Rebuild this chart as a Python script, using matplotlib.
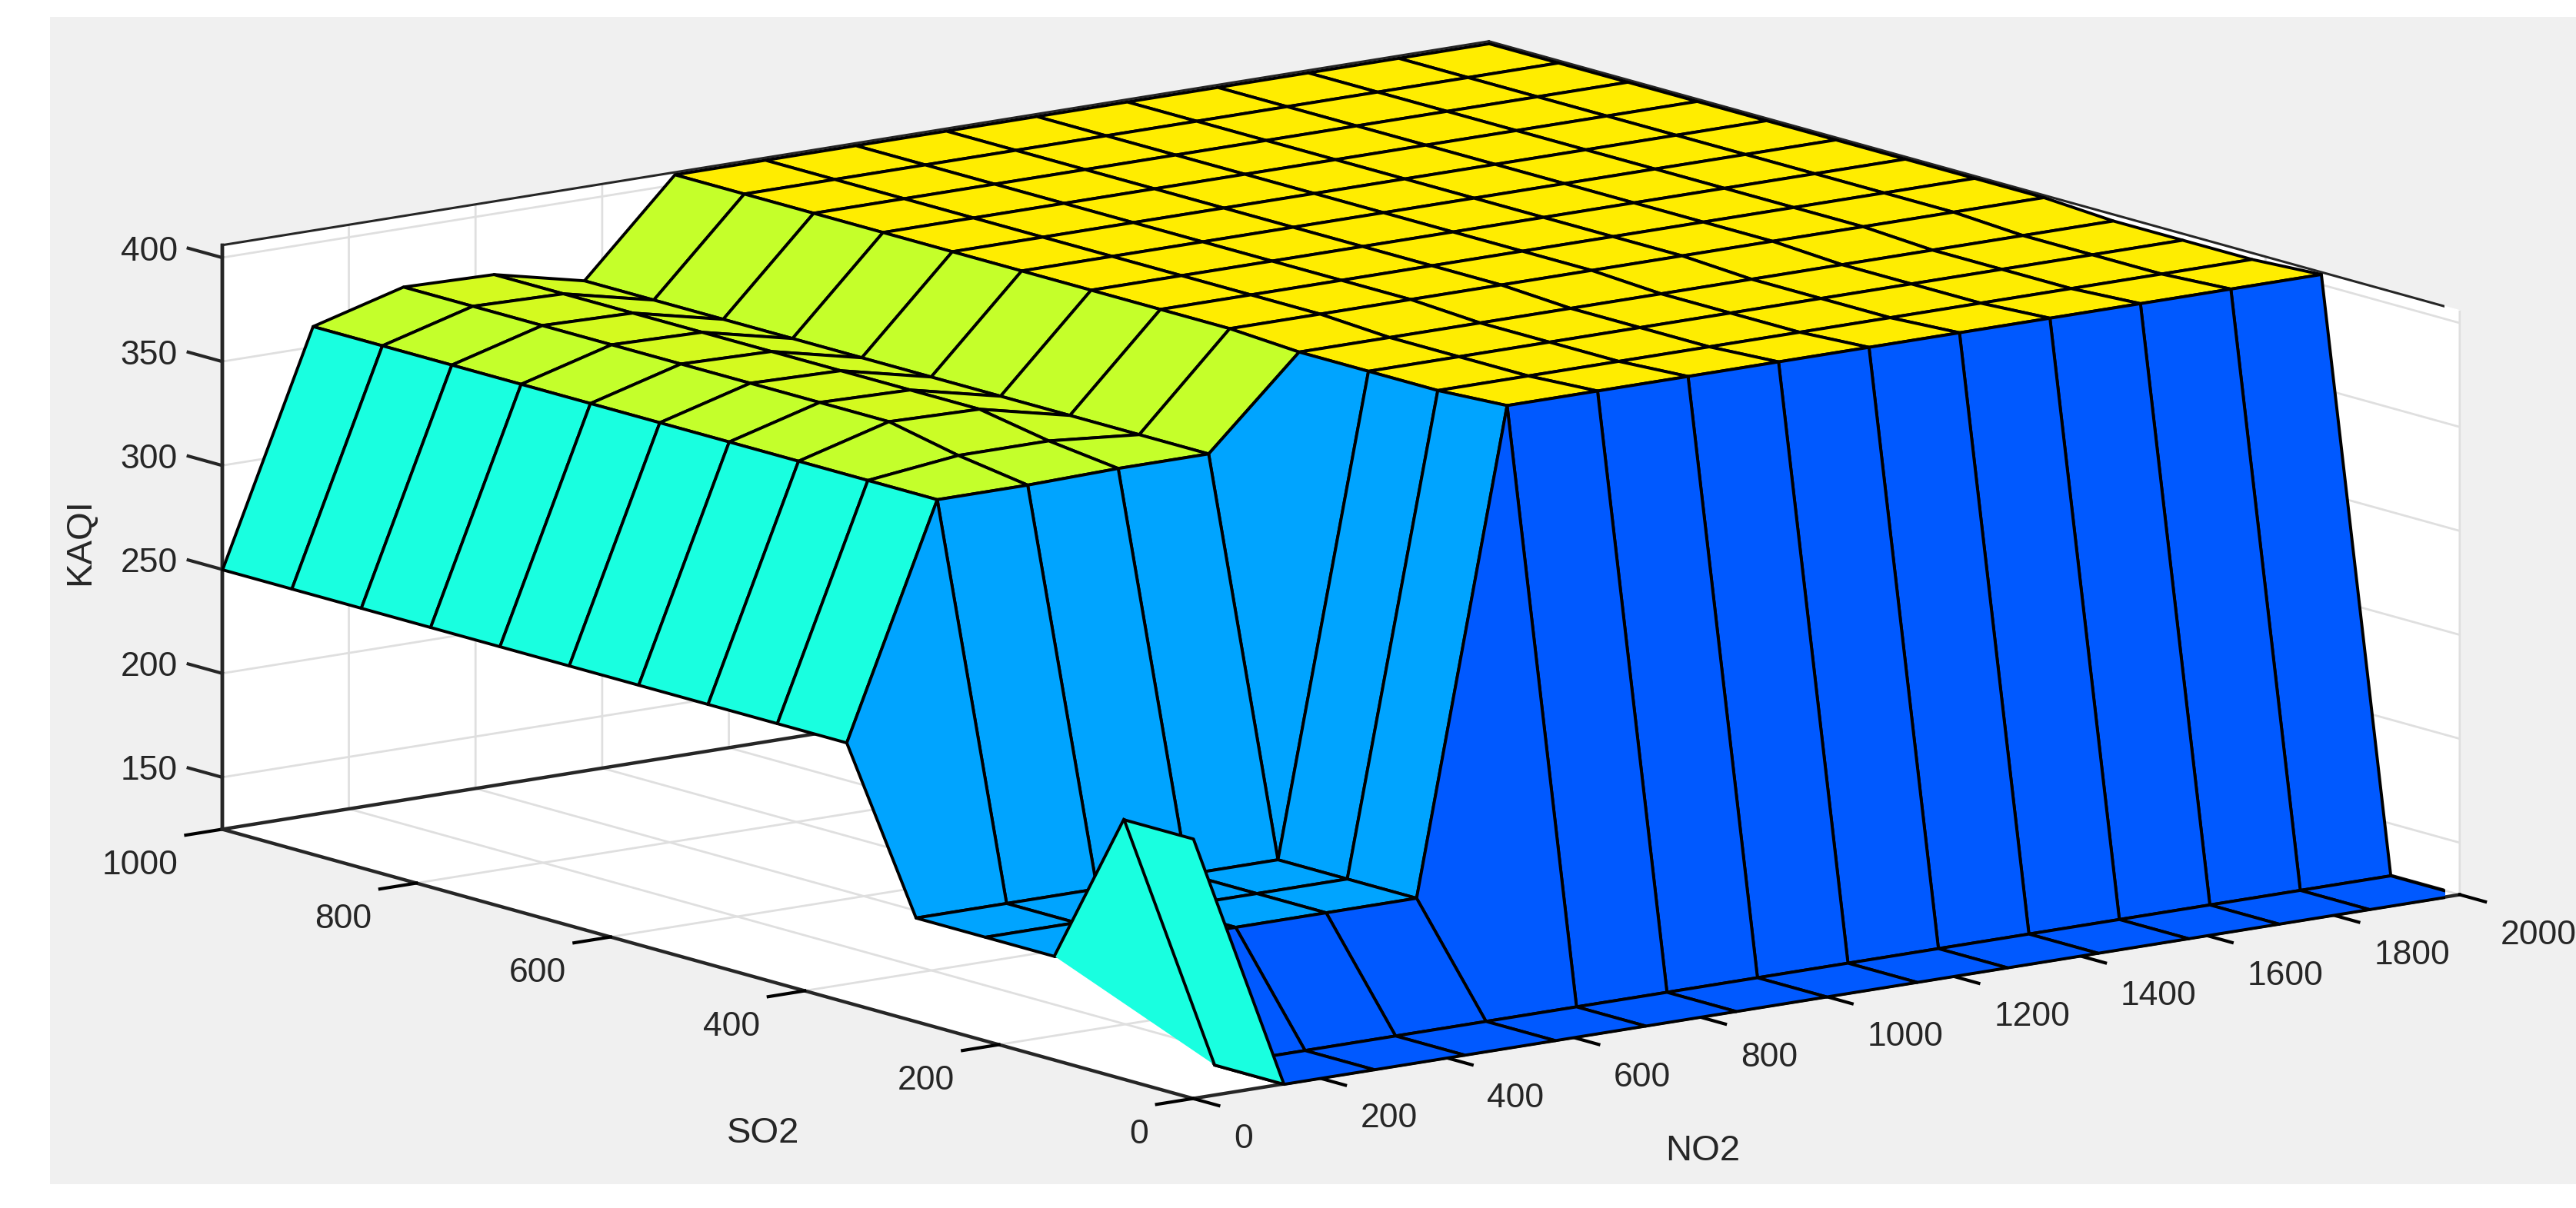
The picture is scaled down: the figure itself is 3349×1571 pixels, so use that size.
import matplotlib
matplotlib.use("Agg")
import matplotlib.pyplot as plt
from matplotlib.colors import LinearSegmentedColormap, Normalize
from matplotlib.patches import Rectangle
from mpl_toolkits.mplot3d.art3d import Poly3DCollection

plt.rcParams['font.family'] = ['Liberation Sans', 'DejaVu Sans']

no2_grid = [0, 142.9, 285.7, 428.6, 571.4, 714.3, 857.1, 1000, 1142.9, 1285.7, 1428.6, 1571.4, 1714.3, 1857.1, 2000]
so2_grid = [0, 71.4, 142.9, 214.3, 285.7, 357.1, 428.6, 500, 571.4, 642.9, 714.3, 785.7, 857.1, 928.6, 1000]

# rows are SO2, columns are NO2
kaqi = [
    [250, 125, 125, 125, 125, 125, 125, 125, 125, 125, 125, 125, 125, 125, 125],
    [250, 125, 125, 125, 125, 125, 125, 125, 125, 125, 125, 125, 125, 125, 125],
    [175, 175, 175, 175, 175, 405, 405, 405, 405, 405, 405, 405, 405, 405, 405],
    [175, 175, 175, 175, 175, 403, 403, 403, 403, 403, 403, 403, 403, 403, 403],
    [175, 175, 175, 175, 175, 403, 403, 403, 403, 403, 403, 403, 403, 403, 403],
    [250, 360, 360, 361, 361, 403, 403, 403, 403, 403, 403, 403, 403, 403, 403],
    [250, 360, 365, 365, 361, 405, 405, 405, 405, 405, 405, 405, 405, 405, 405],
    [250, 360, 372, 371, 361, 405, 405, 405, 405, 405, 405, 405, 405, 405, 405],
    [250, 360, 372, 371, 361, 405, 405, 405, 405, 405, 405, 405, 405, 405, 405],
    [250, 360, 372, 371, 361, 405, 405, 405, 405, 405, 405, 405, 405, 405, 405],
    [250, 360, 372, 371, 361, 405, 405, 405, 405, 405, 405, 405, 405, 405, 405],
    [250, 360, 372, 371, 361, 405, 405, 405, 405, 405, 405, 405, 405, 405, 405],
    [250, 360, 372, 371, 361, 405, 405, 405, 405, 405, 405, 405, 405, 405, 405],
    [250, 360, 372, 371, 361, 405, 405, 405, 405, 405, 405, 405, 405, 405, 405],
    [250, 360, 372, 371, 361, 405, 405, 405, 405, 405, 405, 405, 405, 405, 405],
]

no2_ticks = [0, 200, 400, 600, 800, 1000, 1200, 1400, 1600, 1800, 2000]
so2_ticks = [0, 200, 400, 600, 800, 1000]
kaqi_ticks = [150, 200, 250, 300, 350, 400]

color_levels = [125, 175, 250, 360, 405]
color_values = ['#0059FF', '#00A5FF', '#19FFE0', '#C4FF2B', '#FFED00']

W, H = 3349, 1571
z_low, z_high = 125, 406
text_color = '#262626'
tick_size = 32
label_size = 34
mesh_lw = 2.8

norm = Normalize(color_levels[0], color_levels[-1])
cmap = LinearSegmentedColormap.from_list('kaqi', [(norm(v), c) for v, c in zip(color_levels, color_values)])

fig = plt.figure(figsize=(W / 100, H / 100), dpi=100, facecolor='white')
fig.patches.append(Rectangle((65 / W, 1 - 1540 / H), 1 - 65 / W, (1540 - 22) / H, transform=fig.transFigure,
                             facecolor='#F0F0F0', edgecolor='none', figure=fig, zorder=-1))

side = 2949
ax = fig.add_axes([229 / W, -684.5 / H, side / W, side / H], projection='3d', proj_type='ortho', computed_zorder=False)
ax.set_facecolor('none')
ax.view_init(elev=12.2, azim=-127.3)
ax.set_box_aspect((969, 975, 363.8))
ax.set_xlim(0, 2000, view_margin=0)
ax.set_ylim(0, 1000, view_margin=0)
ax.set_zlim(z_low, z_high, view_margin=0)

ax.set_xticks(no2_ticks)
ax.set_yticks(so2_ticks)
ax.set_zticks(kaqi_ticks)
ax.set_xticklabels([])
ax.set_yticklabels([])
ax.set_zticklabels([])

for axis, out in ((ax.xaxis, -0.33), (ax.yaxis, -0.36), (ax.zaxis, 0)):
    axis.set_pane_color('white')
    axis.pane.set_edgecolor('white')
    axis.line.set_color(text_color)
    axis.line.set_linewidth(3.2)
    axis._axinfo['grid'].update(color='#DFDFDF', linewidth=2)
    axis._axinfo['tick'].update(inward_factor=0, outward_factor=out, color=text_color)
    axis._axinfo['tick']['linewidth'] = {True: 3, False: 3}

# tick labels
for v in no2_ticks:
    ax.text(v, -42, 111, str(v), ha='left', va='center', fontsize=tick_size, color=text_color)
for v in so2_ticks:
    ax.text(-70, v, 111, str(v), ha='right', va='center', fontsize=tick_size, color=text_color)
for v in kaqi_ticks:
    ax.text(0, 1046, v - 3, str(v), ha='right', va='center', fontsize=tick_size, color=text_color)
    # the 3d z ticks only run along NO2 at this corner, these run along SO2
    ax.plot([0, 0], [1000, 1035], [v, v], color=text_color, lw=3, zorder=1)

# rest of the box
ax.plot([0, 2000], [1000, 1000], [z_high, z_high], color=text_color, lw=2.2, zorder=1)
ax.plot([2000, 2000], [0, 1000], [z_high, z_high], color=text_color, lw=2.2, zorder=1)
ax.plot([0, 2000], [1000, 1000], [z_low, z_low], color=text_color, lw=3.2, zorder=1)
ax.plot([2000, 2000], [0, 1000], [z_low, z_low], color=text_color, lw=3.2, zorder=1)
ax.plot([2000, 2000], [0, 0], [z_low, z_high], color=text_color, lw=2.2, zorder=1)
ax.plot([0, 0], [1000, 1000], [z_low, z_high], color=text_color, lw=3.2, zorder=1)

# far cells first, each face takes the colour of its lowest-index corner
order = 10
for i in range(len(so2_grid) - 2, -1, -1):
    for j in range(len(no2_grid) - 2, -1, -1):
        quad = [(no2_grid[j], so2_grid[i], kaqi[i][j]),
                (no2_grid[j + 1], so2_grid[i], kaqi[i][j + 1]),
                (no2_grid[j + 1], so2_grid[i + 1], kaqi[i + 1][j + 1]),
                (no2_grid[j], so2_grid[i + 1], kaqi[i + 1][j])]
        face = Poly3DCollection([quad], facecolors=[cmap(norm(kaqi[i][j]))], edgecolors='black',
                                linewidths=mesh_lw, zorder=order)
        ax.add_collection3d(face, autolim=False)
        order += 1
        if i == 1 and j == 0:
            # this cell folds over itself on screen, the fold is filled
            tri = [quad[0], quad[1], quad[3]]
            ax.add_collection3d(Poly3DCollection([tri], facecolors=[cmap(norm(kaqi[i][j]))], edgecolors='none',
                                                 zorder=order), autolim=False)
            order += 1
            ax.plot([quad[0][0], quad[3][0]], [quad[0][1], quad[3][1]], [quad[0][2], quad[3][2]],
                    color='black', lw=mesh_lw, zorder=order)
            order += 1

fig.text(992 / W, 1 - 1474 / H, 'SO2', fontsize=label_size, color=text_color, ha='center', va='center')
fig.text(2214 / W, 1 - 1497 / H, 'NO2', fontsize=label_size, color=text_color, ha='center', va='center')
fig.text(104 / W, 1 - 705 / H, 'KAQI', fontsize=label_size, color=text_color, ha='center', va='center', rotation=90)

fig.savefig('out.png', dpi=100)
